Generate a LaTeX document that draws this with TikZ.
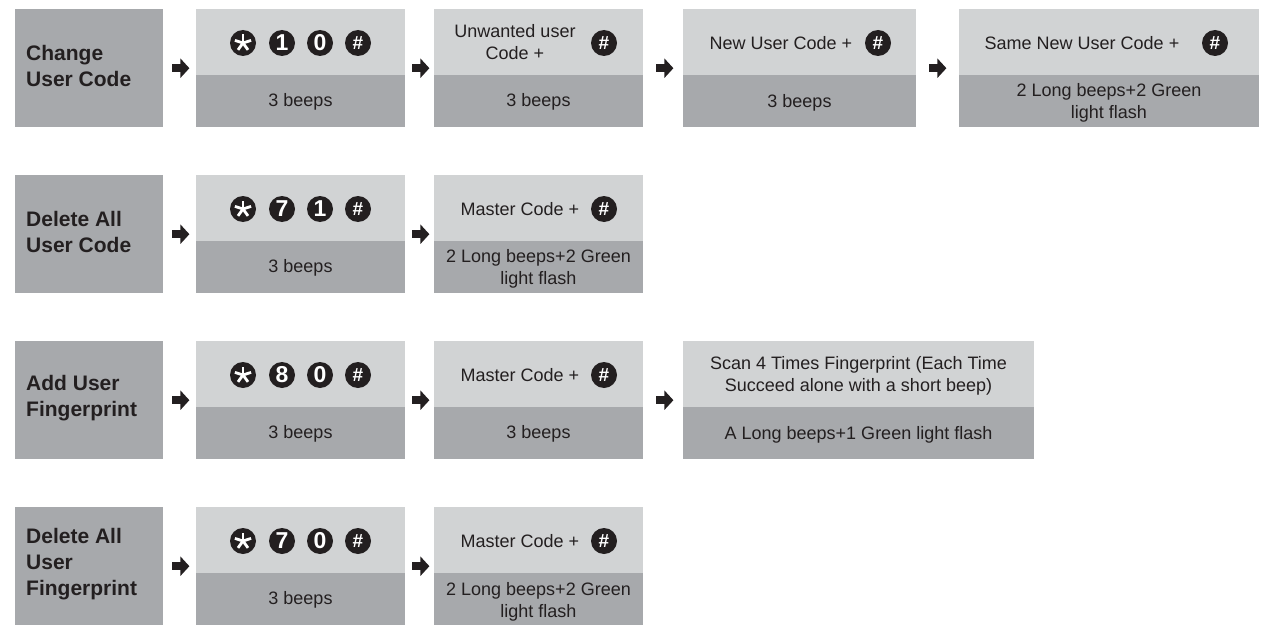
\documentclass[tikz,border=0pt]{standalone}
\usepackage{fontspec}
\setmainfont{Liberation Sans}
\usetikzlibrary{arrows.meta}
\definecolor{lightg}{HTML}{D1D3D4}
\definecolor{darkg}{HTML}{A7A9AC}
\definecolor{ink}{HTML}{231F20}
\begin{document}
\begin{tikzpicture}[x=1pt,y=-1pt,
  labbox/.style={fill=darkg, minimum width=148pt, minimum height=118pt, anchor=north west, inner sep=0pt},
  stepbox/.style={fill=darkg, minimum height=118pt, anchor=north west, inner sep=0pt},
  toppart/.style={fill=lightg, minimum height=66pt, anchor=north, inner sep=0pt},
  labtxt/.style={anchor=west, align=left, text=ink, inner sep=0pt, font=\bfseries\fontsize{21}{26}\selectfont},
  txt/.style={align=center, text=ink, inner sep=0pt, font=\fontsize{18}{22}\selectfont},
  keyc/.style={circle, fill=ink, minimum size=26pt, inner sep=0pt, text=white, font=\bfseries\fontsize{23}{23}\selectfont},
  hashc/.style={keyc, font=\bfseries\fontsize{19}{19}\selectfont},
  star/.style={white, line width=2.8pt},
  flow/.style={draw=ink, line width=8pt, -{Triangle[length=9pt,width=19pt]}}
]
\useasboundingbox (0,0) rectangle (1280,642);

% ---------- Row 1 ----------
\node[labbox] (l1) at (15,9) {};
\node[labtxt] (l1t) at (26,66) {Change\\User Code};
\node[stepbox, minimum width=209pt] (a1) at (196,9) {};
\node[toppart, minimum width=209pt] (a1t) at (a1.north) {};
\node[keyc] (a1k1) at (243,43) {};
\foreach \ang in {90,162,234,306,18} \draw[star] (a1k1.center) -- ++(\ang:8.5pt);
\node[keyc] (a1k2) at (282,43) {1};
\node[keyc] (a1k3) at (320,43) {0};
\node[hashc] (a1k4) at (358,43) {\#};
\node[txt] (a1b) at (300.5,102) {3 beeps};

\node[stepbox, minimum width=209pt] (b1) at (434,9) {};
\node[toppart, minimum width=209pt] (b1t) at (b1.north) {};
\node[txt] (b1tt) at (515,42) {Unwanted user\\Code +};
\node[hashc] (b1h) at (604,43) {\#};
\node[txt] (b1b) at (538.5,102) {3 beeps};

\node[stepbox, minimum width=233pt] (c1) at (683,9) {};
\node[toppart, minimum width=233pt] (c1t) at (c1.north) {};
\node[txt] (c1tt) at (781,43) {New User Code +};
\node[hashc] (c1h) at (878,43) {\#};
\node[txt] (c1b) at (799.5,103) {3 beeps};

\node[stepbox, minimum width=300pt] (d1) at (959,9) {};
\node[toppart, minimum width=300pt] (d1t) at (d1.north) {};
\node[txt] (d1tt) at (1082,43) {Same New User Code +};
\node[hashc] (d1h) at (1215,43) {\#};
\node[txt] (d1b) at (1109,103) {2 Long beeps+2 Green\\light flash};

\draw[flow] ([xshift=9pt]l1.east) -- ++(17,0);
\draw[flow] ([xshift=7pt]a1.east) -- ++(17,0);
\draw[flow] ([xshift=13pt]b1.east) -- ++(17,0);
\draw[flow] ([xshift=13pt]c1.east) -- ++(17,0);

% ---------- Row 2 ----------
\node[labbox] (l2) at (15,175) {};
\node[labtxt] (l2t) at (26,232) {Delete All\\User Code};
\node[stepbox, minimum width=209pt] (a2) at (196,175) {};
\node[toppart, minimum width=209pt] (a2t) at (a2.north) {};
\node[keyc] (a2k1) at (243,209) {};
\foreach \ang in {90,162,234,306,18} \draw[star] (a2k1.center) -- ++(\ang:8.5pt);
\node[keyc] (a2k2) at (282,209) {7};
\node[keyc] (a2k3) at (320,209) {1};
\node[hashc] (a2k4) at (358,209) {\#};
\node[txt] (a2b) at (300.5,268) {3 beeps};

\node[stepbox, minimum width=209pt] (b2) at (434,175) {};
\node[toppart, minimum width=209pt] (b2t) at (b2.north) {};
\node[txt] (b2tt) at (520,209) {Master Code +};
\node[hashc] (b2h) at (604,209) {\#};
\node[txt] (b2b) at (538.5,269) {2 Long beeps+2 Green\\light flash};

\draw[flow] ([xshift=9pt]l2.east) -- ++(17,0);
\draw[flow] ([xshift=7pt]a2.east) -- ++(17,0);

% ---------- Row 3 ----------
\node[labbox] (l3) at (15,341) {};
\node[labtxt] (l3t) at (26,398) {Add User\\Fingerprint};
\node[stepbox, minimum width=209pt] (a3) at (196,341) {};
\node[toppart, minimum width=209pt] (a3t) at (a3.north) {};
\node[keyc] (a3k1) at (243,375) {};
\foreach \ang in {90,162,234,306,18} \draw[star] (a3k1.center) -- ++(\ang:8.5pt);
\node[keyc] (a3k2) at (282,375) {8};
\node[keyc] (a3k3) at (320,375) {0};
\node[hashc] (a3k4) at (358,375) {\#};
\node[txt] (a3b) at (300.5,434) {3 beeps};

\node[stepbox, minimum width=209pt] (b3) at (434,341) {};
\node[toppart, minimum width=209pt] (b3t) at (b3.north) {};
\node[txt] (b3tt) at (520,375) {Master Code +};
\node[hashc] (b3h) at (604,375) {\#};
\node[txt] (b3b) at (538.5,434) {3 beeps};

\node[stepbox, minimum width=351pt] (c3) at (683,341) {};
\node[toppart, minimum width=351pt] (c3t) at (c3.north) {};
\node[txt] (c3tt) at (858.5,376) {Scan 4 Times Fingerprint (Each Time\\Succeed alone with a short beep)};
\node[txt] (c3b) at (858.5,435) {A Long beeps+1 Green light flash};

\draw[flow] ([xshift=9pt]l3.east) -- ++(17,0);
\draw[flow] ([xshift=7pt]a3.east) -- ++(17,0);
\draw[flow] ([xshift=13pt]b3.east) -- ++(17,0);

% ---------- Row 4 ----------
\node[labbox] (l4) at (15,507) {};
\node[labtxt] (l4t) at (26,564) {Delete All\\User\\Fingerprint};
\node[stepbox, minimum width=209pt] (a4) at (196,507) {};
\node[toppart, minimum width=209pt] (a4t) at (a4.north) {};
\node[keyc] (a4k1) at (243,541) {};
\foreach \ang in {90,162,234,306,18} \draw[star] (a4k1.center) -- ++(\ang:8.5pt);
\node[keyc] (a4k2) at (282,541) {7};
\node[keyc] (a4k3) at (320,541) {0};
\node[hashc] (a4k4) at (358,541) {\#};
\node[txt] (a4b) at (300.5,600) {3 beeps};

\node[stepbox, minimum width=209pt] (b4) at (434,507) {};
\node[toppart, minimum width=209pt] (b4t) at (b4.north) {};
\node[txt] (b4tt) at (520,541) {Master Code +};
\node[hashc] (b4h) at (604,541) {\#};
\node[txt] (b4b) at (538.5,602) {2 Long beeps+2 Green\\light flash};

\draw[flow] ([xshift=9pt]l4.east) -- ++(17,0);
\draw[flow] ([xshift=7pt]a4.east) -- ++(17,0);
\end{tikzpicture}
\end{document}
